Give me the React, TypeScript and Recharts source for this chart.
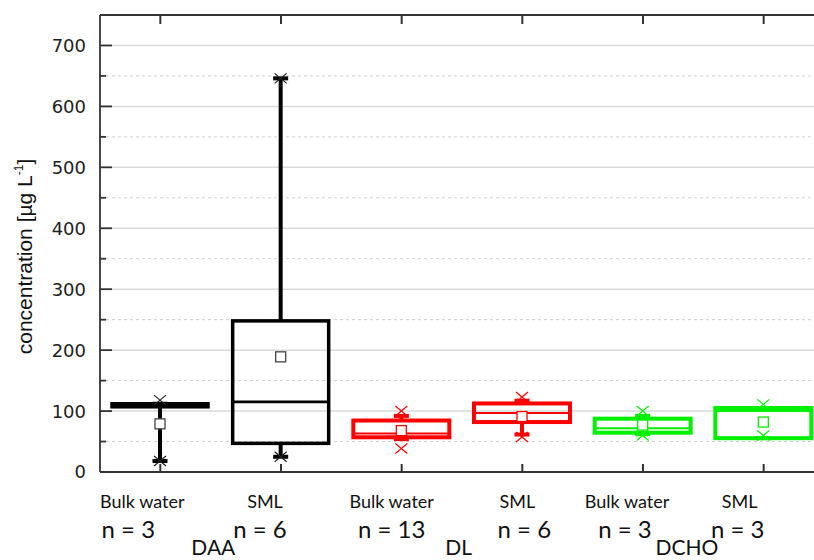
import { ComposedChart, Bar, XAxis, YAxis, CartesianGrid } from "recharts";

// categories along the x axis
const categories = ["Bulk water", "SML", "Bulk water", "SML", "Bulk water", "SML"];
const sampleCounts = [3, 6, 13, 6, 3, 3];
const groups = ["DAA", "DL", "DCHO"];
const boxColors = ["#000000", "#000000", "#ff0000", "#ff0000", "#00f000", "#00f000"];

// box statistics, µg L-1
const q1 = [107, 47, 57, 82, 64.5, 55.5];
const median = [110, 115, 63, 97, 72, 100];
const q3 = [112, 248, 84.5, 112.5, 87.5, 105];
const mean = [79, 189, 68, 91, 77, 82];
const whiskerLow = [18, 25, 54, 61.5, 62, 55.5];
const whiskerHigh = [112, 646, 92, 117, 92, 105];
const markerLow = [18, 25, 38.5, 57.5, 60, 60];
const markerHigh = [118, 646, 100, 123, 100, 111];

const majorTicks = [0, 100, 200, 300, 400, 500, 600, 700];
const minorTicks = [50, 150, 250, 350, 450, 550, 650];

// label nudges (px) so the texts sit like in the original figure
const LABEL_DX = [-18, -16, -10, -5, -16, -24];
const COUNT_DX = [-32, -21, -10, 2, -18, -26];
const GROUP_DX = [-7, -3, -16];

const AXIS = "#333";
const LABEL_FONT = "Lato, 'Open Sans', sans-serif";

const data = categories.map((name, i) => ({
  id: `c${i}`,
  name,
  n: sampleCounts[i],
  color: boxColors[i],
  q1: q1[i],
  median: median[i],
  q3: q3[i],
  mean: mean[i],
  wLo: whiskerLow[i],
  wHi: whiskerHigh[i],
  mLo: markerLow[i],
  mHi: markerHigh[i],
  lo: Math.min(markerLow[i], whiskerLow[i], q1[i]),
  hi: Math.max(markerHigh[i], whiskerHigh[i], q3[i]),
}));

function BoxShape(props: any) {
  const { x, y, width, height, payload: d } = props;
  const top = Math.min(y, y + height);
  const h = Math.abs(height);
  const k = h / (d.hi - d.lo);
  const Y = (v: number) => top + (d.hi - v) * k;
  const cx = x + width / 2;
  const black = d.color === "#000000";
  const sw = black ? 3.5 : 4;
  const cross = (v: number) => {
    const yy = Y(v);
    return `M${cx - 6} ${yy - 5}L${cx + 6} ${yy + 5}M${cx - 6} ${yy + 5}L${cx + 6} ${yy - 5}`;
  };
  return (
    <g>
      {d.wHi > d.q3 && <line x1={cx} x2={cx} y1={Y(d.q3)} y2={Y(d.wHi)} stroke={d.color} strokeWidth={4} />}
      {d.wLo < d.q1 && <line x1={cx} x2={cx} y1={Y(d.q1)} y2={Y(d.wLo)} stroke={d.color} strokeWidth={4} />}
      <line x1={cx - 7.5} x2={cx + 7.5} y1={Y(d.wHi)} y2={Y(d.wHi)} stroke={d.color} strokeWidth={4} />
      <line x1={cx - 7.5} x2={cx + 7.5} y1={Y(d.wLo)} y2={Y(d.wLo)} stroke={d.color} strokeWidth={4} />
      <rect x={x} y={Y(d.q3)} width={width} height={Y(d.q1) - Y(d.q3)} fill="none" stroke={d.color} strokeWidth={sw} />
      <line x1={x} x2={x + width} y1={Y(d.median)} y2={Y(d.median)} stroke={d.color} strokeWidth={black ? 2.8 : 2} />
      <rect x={cx - 5} y={Y(d.mean) - 5} width={10} height={10} fill="#fff" stroke={black ? "#444" : d.color} strokeWidth={1.3} />
      <path d={cross(d.mHi) + cross(d.mLo)} stroke={black ? "#222" : d.color} strokeWidth={1.2} fill="none" />
    </g>
  );
}

function BottomTick(props: any) {
  const { x, y, index } = props;
  const i = index as number;
  return (
    <g>
      <line x1={x} x2={x} y1={y} y2={y - 8} stroke={AXIS} strokeWidth={2} />
      <text x={x + LABEL_DX[i]} y={y + 36} textAnchor="middle" fontSize={18} fontFamily={LABEL_FONT} fill="#111">
        {categories[i]}
      </text>
      <text x={x + COUNT_DX[i]} y={y + 66} textAnchor="middle" fontSize={24} fontFamily={LABEL_FONT} fill="#111">
        {`n = ${sampleCounts[i]}`}
      </text>
      {i % 2 === 0 && (
        <text x={x + 60 + GROUP_DX[i / 2]} y={y + 83} textAnchor="middle" fontSize={21} fontFamily={LABEL_FONT} fill="#111">
          {groups[i / 2]}
        </text>
      )}
    </g>
  );
}

function TopTick(props: any) {
  const { x, y } = props;
  return <line x1={x} x2={x} y1={y} y2={y + 9} stroke={AXIS} strokeWidth={2} />;
}

function LeftTick(props: any) {
  const { x, y, payload } = props;
  const major = payload.value % 100 === 0;
  return (
    <g>
      <line x1={x} x2={x + (major ? 12 : 6)} y1={y} y2={y} stroke={AXIS} strokeWidth={1.8} />
      {major && (
        <text x={x - 14} y={y} dy="0.36em" textAnchor="end" fontSize={18} fontFamily="'DejaVu Sans', sans-serif" fill="#222">
          {payload.value}
        </text>
      )}
    </g>
  );
}

function RightTick(props: any) {
  const { x, y, payload } = props;
  const major = payload.value % 100 === 0;
  return <line x1={x} x2={x - (major ? 11 : 6)} y1={y} y2={y} stroke={AXIS} strokeWidth={1.8} />;
}

function YLabel(props: any) {
  const vb = props.viewBox || { y: 15, height: 457 };
  const cy = vb.y + vb.height / 2 + 13;
  return (
    <text transform={`translate(32, ${cy}) rotate(-90)`} textAnchor="middle" fontSize={21} fontFamily="'Liberation Sans', Arial, sans-serif" fill="#111">
      concentration [µg L
      <tspan fontSize={12} dy={-9}>-1</tspan>
      <tspan dy={9}>]</tspan>
    </text>
  );
}

const allTicks = [...majorTicks, ...minorTicks].sort((a, b) => a - b);

export default function App() {
  return (
    <div style={{ position: "fixed", left: 0, top: 0, width: 814, height: 560, overflow: "hidden", background: "#fff" }}>
      <ComposedChart width={841} height={560} data={data} margin={{ top: 0, right: 0, bottom: 0, left: 0 }}>
        <CartesianGrid vertical={false} stroke="#d9d9d9" strokeWidth={1.5} horizontalValues={majorTicks.slice(1)} />
        <CartesianGrid vertical={false} stroke="#cfcfcf" strokeWidth={1} strokeDasharray="3 3" horizontalValues={minorTicks} />
        <XAxis
          dataKey="id"
          height={88}
          interval={0}
          tickSize={0}
          tickMargin={0}
          tickLine={false}
          axisLine={{ stroke: AXIS, strokeWidth: 2.2 }}
          tick={(p: any) => <BottomTick {...p} />}
        />
        <XAxis
          xAxisId="top"
          orientation="top"
          dataKey="id"
          height={15}
          interval={0}
          tickSize={0}
          tickMargin={0}
          tickLine={false}
          axisLine={{ stroke: AXIS, strokeWidth: 2 }}
          tick={(p: any) => <TopTick {...p} />}
        />
        <YAxis
          type="number"
          width={100}
          domain={[0, 750]}
          ticks={allTicks}
          interval={0}
          tickSize={0}
          tickMargin={0}
          tickLine={false}
          axisLine={{ stroke: AXIS, strokeWidth: 1.8 }}
          tick={(p: any) => <LeftTick {...p} />}
          label={<YLabel />}
        />
        <YAxis
          yAxisId="r"
          orientation="right"
          type="number"
          width={17}
          domain={[0, 750]}
          ticks={allTicks}
          interval={0}
          tickSize={0}
          tickMargin={0}
          tickLine={false}
          axisLine={{ stroke: AXIS, strokeWidth: 1.8 }}
          tick={(p: any) => <RightTick {...p} />}
        />
        <Bar
          dataKey={(d: any) => [d.lo, d.hi]}
          barSize={96}
          shape={(p: any) => <BoxShape {...p} />}
          isAnimationActive={false}
        />
      </ComposedChart>
    </div>
  );
}
